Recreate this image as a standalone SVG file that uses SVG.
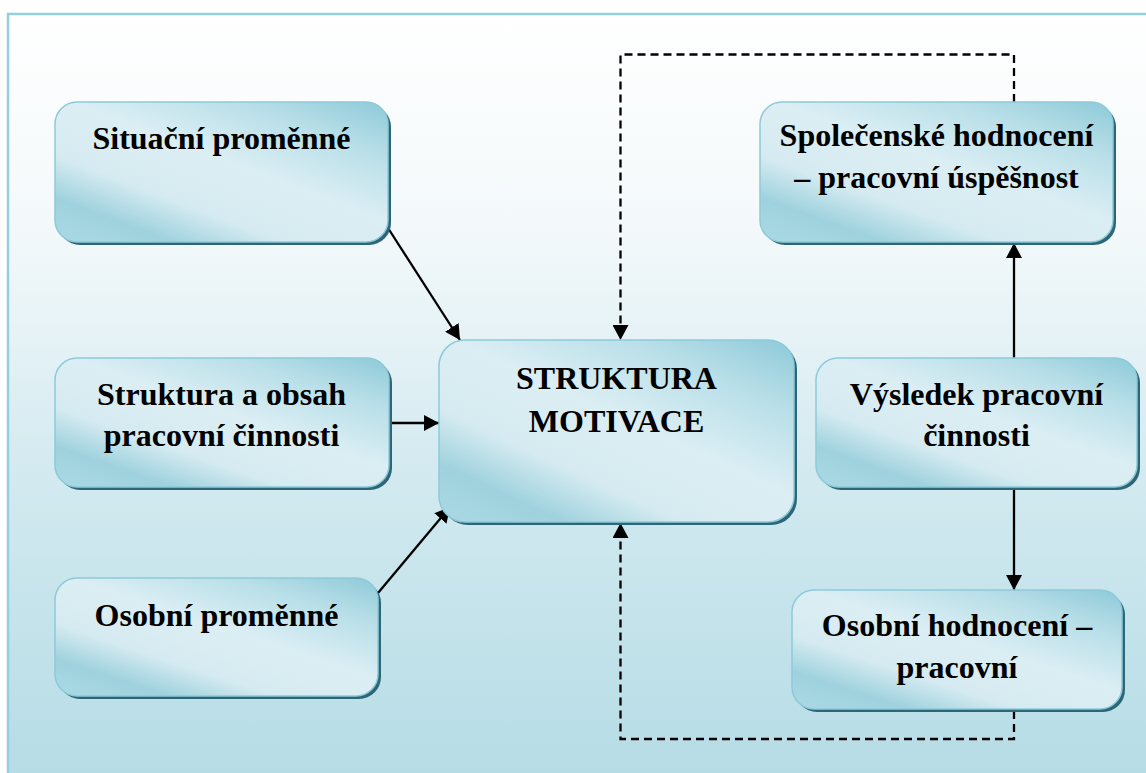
<svg xmlns="http://www.w3.org/2000/svg" width="1146" height="773" viewBox="0 0 1146 773">
  <defs>
    <linearGradient id="bg" gradientUnits="userSpaceOnUse" x1="0" y1="14" x2="0" y2="773">
      <stop offset="0" stop-color="#ffffff"/>
      <stop offset="0.3" stop-color="#f2f8fa"/>
      <stop offset="0.6" stop-color="#d3eaf0"/>
      <stop offset="1" stop-color="#b6dce6"/>
    </linearGradient>
    <linearGradient id="nodeFill" x1="0.95" y1="0" x2="0.05" y2="1">
      <stop offset="0" stop-color="#92ccda"/>
      <stop offset="0.2" stop-color="#b9dfe8"/>
      <stop offset="0.45" stop-color="#dbeef4"/>
      <stop offset="0.68" stop-color="#d6ebf1"/>
      <stop offset="0.85" stop-color="#9fd2de"/>
      <stop offset="1" stop-color="#a9d8e3"/>
    </linearGradient>
    <marker id="arrow" viewBox="0 0 10 10" refX="10" refY="5" markerUnits="userSpaceOnUse" markerWidth="15" markerHeight="16" orient="auto" preserveAspectRatio="none">
      <path d="M0,0 L10,5 L0,10 z" fill="#000"/>
    </marker>
  </defs>
  <style>
    .shadow { fill: #2d6676; }
    .box { fill: url(#nodeFill); stroke: #8dcad9; stroke-width: 1.5; }
    .label { font-family: "Liberation Serif", "Times New Roman", serif; font-weight: bold; font-size: 32px; fill: #000; text-anchor: middle; }
    .conn { fill: none; stroke: #000; stroke-width: 2.3; }
    .dash { stroke-dasharray: 8 5; }
  </style>

  <rect x="0" y="0" width="1146" height="773" fill="#ffffff"/>
  <rect x="8" y="14" width="1150" height="770" fill="url(#bg)" stroke="#93cfdd" stroke-width="2.5"/>

  <g id="connectors">
    <line class="conn" x1="388" y1="228" x2="460" y2="340" marker-end="url(#arrow)"/>
    <line class="conn" x1="389" y1="423" x2="439" y2="423" marker-end="url(#arrow)"/>
    <line class="conn" x1="378" y1="593" x2="450" y2="507" marker-end="url(#arrow)"/>
    <path class="conn dash" d="M1014,102 V54.5 H620.5 V340" marker-end="url(#arrow)"/>
    <line class="conn" x1="1014" y1="358" x2="1014" y2="243" marker-end="url(#arrow)"/>
    <line class="conn" x1="1014" y1="487" x2="1014" y2="590" marker-end="url(#arrow)"/>
    <path class="conn dash" d="M1014,711 V739 H620.5 V523" marker-end="url(#arrow)"/>
  </g>

  <g id="situacni">
    <rect class="shadow" x="58" y="105" width="333" height="140" rx="22"/>
    <rect class="box" x="55" y="102" width="333" height="140" rx="22"/>
    <text class="label" x="221.5" y="149">Situační proměnné</text>
  </g>

  <g id="struktura-obsah">
    <rect class="shadow" x="58" y="361" width="334" height="129" rx="22"/>
    <rect class="box" x="55" y="358" width="334" height="129" rx="22"/>
    <text class="label" x="221.5" y="405">Struktura a obsah</text>
    <text class="label" x="221.5" y="446">pracovní činnosti</text>
  </g>

  <g id="osobni-promenne">
    <rect class="shadow" x="58" y="581" width="323" height="118" rx="22"/>
    <rect class="box" x="55" y="578" width="323" height="118" rx="22"/>
    <text class="label" x="216.5" y="626">Osobní proměnné</text>
  </g>

  <g id="struktura-motivace">
    <rect class="shadow" x="442" y="343" width="355" height="182" rx="26"/>
    <rect class="box" x="439" y="340" width="355" height="182" rx="26"/>
    <text class="label" x="616.5" y="389">STRUKTURA</text>
    <text class="label" x="616.5" y="432">MOTIVACE</text>
  </g>

  <g id="spolecenske">
    <rect class="shadow" x="763" y="105" width="353" height="140" rx="22"/>
    <rect class="box" x="760" y="102" width="353" height="140" rx="22"/>
    <text class="label" x="936.5" y="146">Společenské hodnocení</text>
    <text class="label" x="936.5" y="188">– pracovní úspěšnost</text>
  </g>

  <g id="vysledek">
    <rect class="shadow" x="819" y="361" width="321" height="129" rx="22"/>
    <rect class="box" x="816" y="358" width="321" height="129" rx="22"/>
    <text class="label" x="976.5" y="405">Výsledek pracovní</text>
    <text class="label" x="976.5" y="446">činnosti</text>
  </g>

  <g id="osobni-hodnoceni">
    <rect class="shadow" x="795" y="593" width="330" height="119" rx="22"/>
    <rect class="box" x="792" y="590" width="330" height="119" rx="22"/>
    <text class="label" x="957" y="636">Osobní hodnocení –</text>
    <text class="label" x="957" y="678">pracovní</text>
  </g>
</svg>
